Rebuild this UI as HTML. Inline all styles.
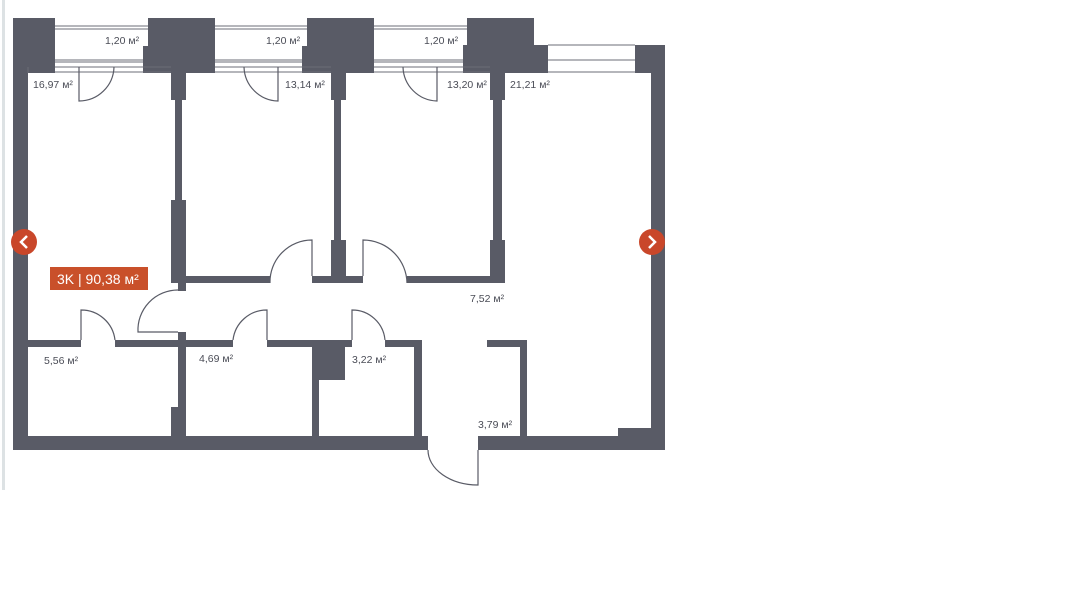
<!DOCTYPE html>
<html><head><meta charset="utf-8"><style>
html,body{margin:0;padding:0;background:#fff;}
svg{display:block;}
text{font-family:"Liberation Sans",sans-serif;font-size:10.5px;fill:#4a4c56;}
</style></head><body>
<svg width="1080" height="608" viewBox="0 0 1080 608" xmlns="http://www.w3.org/2000/svg">
<rect x="2" y="0" width="3" height="490" fill="#dde2e4"/>
<g fill="#595b66">
<!-- outer walls -->
<rect x="13" y="18" width="42" height="55"/>
<rect x="13" y="18" width="15" height="432"/>
<rect x="13" y="436" width="415" height="14"/>
<rect x="478" y="436" width="187" height="14"/>
<rect x="651" y="45" width="14" height="405"/>
<rect x="618" y="428" width="40" height="10"/>
<rect x="148" y="18" width="67" height="55"/>
<rect x="143" y="46" width="8" height="27"/>
<rect x="307" y="18" width="67" height="55"/>
<rect x="302" y="46" width="8" height="27"/>
<rect x="467" y="18" width="67" height="30"/>
<rect x="463" y="45" width="85" height="28"/>
<rect x="635" y="45" width="30" height="28"/>
<!-- vertical walls upper -->
<rect x="171" y="73" width="15" height="27"/>
<rect x="175" y="100" width="7" height="100"/>
<rect x="171" y="200" width="15" height="83"/>
<rect x="331" y="73" width="15" height="27"/>
<rect x="334" y="100" width="7" height="183"/>
<rect x="331" y="240" width="15" height="43"/>
<rect x="490" y="73" width="15" height="27"/>
<rect x="493" y="100" width="9" height="183"/>
<rect x="490" y="240" width="15" height="43"/>
<!-- horizontal wall upper -->
<rect x="186" y="276" width="84" height="7"/>
<rect x="312" y="276" width="51" height="7"/>
<rect x="407" y="276" width="98" height="7"/>
<!-- lower walls -->
<rect x="28" y="340" width="53" height="7"/>
<rect x="115" y="340" width="71" height="7"/>
<rect x="178" y="283" width="8" height="8"/>
<rect x="178" y="332" width="8" height="104"/>
<rect x="171" y="407" width="15" height="29"/>
<rect x="186" y="340" width="47" height="7"/>
<rect x="267" y="340" width="85" height="7"/>
<rect x="312" y="340" width="33" height="40"/>
<rect x="312" y="380" width="7" height="56"/>
<rect x="385" y="340" width="37" height="7"/>
<rect x="414" y="340" width="8" height="96"/>
<rect x="487" y="340" width="40" height="7"/>
<rect x="520" y="340" width="7" height="96"/>
</g>
<!-- balconies -->
<g stroke="#6b6d77" stroke-width="1" fill="none">
<path d="M55 26H148M55 29H148M55 60H143M55 62H143M55 67H171M55 72H171"/>
<path d="M215 26H307M215 29H307M215 60H302M215 62H302M215 67H331M215 72H331"/>
<path d="M374 26H467M374 29H467M374 60H463M374 62H463M374 67H490M374 72H490"/>
<path d="M548 45H635M548 60H635M548 72H635"/>
<path d="M28 67V73"/>
</g>
<!-- doors -->
<g stroke="#595b66" stroke-width="1.2" fill="none">
<path d="M79 67V101A35 35 0 0 0 114 67"/>
<path d="M278 67V101A35 35 0 0 1 244 67"/>
<path d="M437 67V101A35 35 0 0 1 403 67"/>
<path d="M270 283A42 42 0 0 1 312 240V276"/>
<path d="M363 276V240A44 44 0 0 1 407 283"/>
<path d="M178 332H138A40 40 0 0 1 178 290"/>
<path d="M81 340V310A34 34 0 0 1 115 340"/>
<path d="M267 340V310A34 34 0 0 0 233 340"/>
<path d="M352 340V310A33 33 0 0 1 385 340"/>
<path d="M428 450A50 35 0 0 0 478 485V450"/>
</g>
<text x="105" y="44">1,20 м²</text>
<text x="266" y="44">1,20 м²</text>
<text x="424" y="44">1,20 м²</text>
<text x="33" y="88">16,97 м²</text>
<text x="285" y="88">13,14 м²</text>
<text x="447" y="88">13,20 м²</text>
<text x="510" y="88">21,21 м²</text>
<text x="470" y="302">7,52 м²</text>
<text x="44" y="364">5,56 м²</text>
<text x="199" y="362">4,69 м²</text>
<text x="352" y="363">3,22 м²</text>
<text x="478" y="428">3,79 м²</text>
<rect x="50" y="267" width="98" height="23" fill="#c9502a"/>
<text x="57" y="284" style="font-size:14px;fill:#fff">3K | 90,38 м²</text>
<circle cx="24" cy="242" r="13" fill="#c9472a"/>
<path d="M27 236L21 242L27 248" stroke="#fff" stroke-width="2.5" fill="none"/>
<circle cx="652" cy="242" r="13" fill="#c9472a"/>
<path d="M649 236L655 242L649 248" stroke="#fff" stroke-width="2.5" fill="none"/>
</svg>
</body></html>
